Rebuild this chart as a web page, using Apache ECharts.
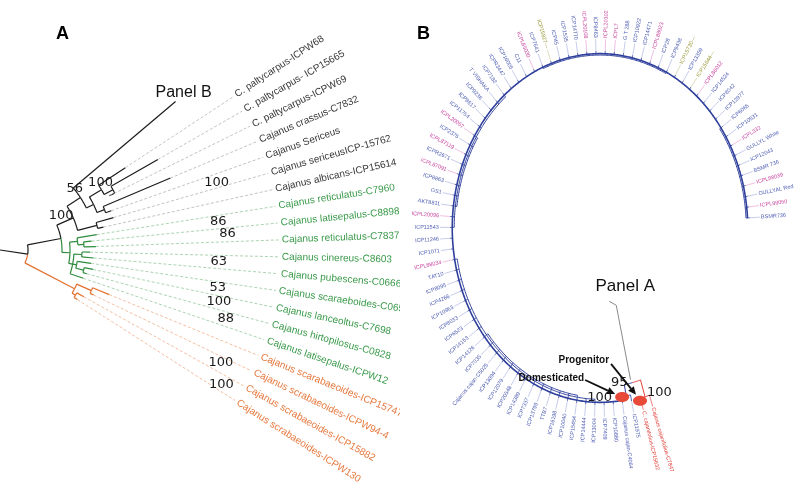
<!DOCTYPE html>
<html><head><meta charset="utf-8">
<script src="https://cdn.jsdelivr.net/npm/echarts@6/dist/echarts.min.js"></script>
<style>html,body{margin:0;padding:0;background:#fff;}#chart{width:797px;height:490px;}</style>
</head><body><div id="chart"></div>
<script>
// ================= Panel A : wild Cajanus species tree =================
const leavesA = [
  'C. paltycarpus-ICPW68','C. paltycarpus- ICP15665','C. paltycarpus-ICPW69','Cajanus crassus-C7832',
  'Cajanus Sericeus','Cajanus sericeusICP-15762','Cajanus albicans-ICP15614',
  'Cajanus reticulatus-C7960','Cajanus latisepalus-C8898','Cajanus reticulatus-C7837','Cajanus cinereus-C8603',
  'Cajanus pubescens-C0666','Cajanus scaraeboides-C0656','Cajanus lanceoltus-C7698','Cajanus hirtopilosus-C0828',
  'Cajanus latisepalus-ICPW12','Cajanus scarabaeoides-ICP15747','Cajanus scrabaeoides-ICPW94-4',
  'Cajanus scrabaeoides-ICP15882','Cajanus scrabaeoides-ICPW130'];
const groupA = ['k','k','k','k','k','k','k','g','g','g','g','g','g','g','g','g','o','o','o','o'];
const panelBLeaf = 'Panel B';
// node: {r: distance from root, c: children}; leaf: {s: leaf slot (order), r}; slot -2 = collapsed "Panel B" clade
const treeA = {r:28, c:[
  {r:62, c:[
    {r:80, c:[
      {r:96, c:[
        {s:-2, r:230},
        {r:104, c:[
          {r:118, c:[{s:0, r:150}, {r:128, c:[{s:1, r:182}, {s:2, r:122}]}]},
          {r:112, c:[{s:3, r:185}, {s:4, r:118}]}
        ]}
      ]},
      {r:100, c:[{s:5, r:118}, {s:6, r:106}]}
    ]},
    {r:70, c:[
      {r:78, c:[{s:7, r:98}, {r:84, c:[{s:8, r:92}, {s:9, r:96}]}]},
      {r:74, c:[
        {r:82, c:[{s:10, r:90}, {s:11, r:94}]},
        {r:78, c:[{s:12, r:92}, {r:86, c:[{s:13, r:95}, {s:14, r:90}]}]},
        {s:15, r:88}
      ]}
    ]}
  ]},
  {r:84, c:[
    {r:100, c:[{s:16, r:118}, {s:17, r:104}]},
    {r:88, c:[{s:18, r:96}, {s:19, r:92}]}
  ]}
]};
// bootstrap values: [text, leaf slot position, radius]
const bootA = [['56',-1.8,97],['100',-0.15,121],['100',1.2,70],['100',4.6,227],['86',7.49,220],['86',8.43,228],
  ['63',10.5,219],['53',12.45,221],['100',13.44,225],['88',14.5,236],['100',17.4,248],['100',18.6,259]];

// ================= Panel B : cultivated accessions (circular tree) =================
const leavesB = ['BSMR736','ICPL99050','GULLYAL Red','ICPL88039','BSMR 736','ICP12043','GULLYL White','ICPL332',
  'ICP10531','ICP6065','ICP12977','ICP8042','ICP14524','ICPL86012','ICP15644---','ICP13359','ICP15730---','ICP9438',
  'ICP28','ICPL88023','ICP14471','ICP10922','G T 288','ICPL7','ICPL20102','ICP8463','ICPL20108','ICP14770','ICP1535',
  'ICP45','ICP15827---','ICP7641','ICPL85030','C11','ICP16005','ICPR3447','ICP7182','T VISHAKA','ICP9236','ICP8617',
  'ICP11754','ICPL20057','ICP2376','ICPL87119','ICPR2671','ICPL87091','ICP8863','GS1','AKT8811','ICPL20096',
  'ICP11543','ICP11246','ICP1071','ICPL88034','TAT10','ICP8095','ICP4266','ICP10963','ICP8033','ICP6523','ICP14153',
  'ICP14126','ICP7035','Cajanus cajan-C5025','ICP13094','ICP12079','ICP20548','ICP14389','ICP7337','ICP13799','TTB7',
  'ICP16198','ICP10040','ICP15454','ICP14444','ICP13004','ICP7409','ICP10880','Cajanus cajan-C4064','ICP11975',
  'C. cajanifolius-ICP15632','Cajanus cajanifolius-C7847'];
const catB = ['b','m','b','m','b','b','b','m','b','b','b','b','b','m','o','b','o','b','b','m','b','b','b','m','m',
  'b','m','b','b','b','o','b','m','b','b','b','b','b','b','b','b','m','b','m','b','m','b','b','b','m',
  'b','b','b','m','b','b','b','b','b','b','b','b','b','b','b','b','b','b','b','b','b','b','b','b','b','b','b','b','b','b',
  'r','r'];
// clade arcs: [first leaf, last leaf, radius]
const arcsB = [[0,78,0.985],[0,9,0.975],[17,31,0.977],[36,50,0.972],[41,48,0.962],[53,75,0.968],[61,73,0.957]];
const bootB = ['100','95','100'];
const panelALeaf = 'Panel A';
const noteB = ['Domesticated','Progenitor'];

// ================= layout helpers =================
const rad = d => d * Math.PI / 180;
const A_SLOT0 = 33.3, A_STEP = 3.47, A_LABEL_R = 282;
const angA = s => A_SLOT0 - A_STEP * s;
const pA = (r, t) => [r * Math.cos(rad(t)), r * Math.sin(rad(t))];
const edgesA = [], tipsA = [];
(function layout(n) {
  if (n.c) {
    n.c.forEach(layout);
    const ts = n.c.map(c => c.t);
    n.t = (Math.min(...ts) + Math.max(...ts)) / 2;
    const gs = [...new Set(n.c.map(c => c.g))];
    n.g = gs.length === 1 ? gs[0] : 'k';
  } else {
    n.t = angA(n.s);
    n.g = n.s >= 0 ? groupA[n.s] : 'k';
    n.name = n.s >= 0 ? leavesA[n.s] : panelBLeaf;
    tipsA.push(n);
  }
})(treeA);
(function collect(n) {
  if (!n.c) return;
  n.c.forEach(c => {
    edgesA.push({arc:true, r:n.r, t1:n.t, t2:c.t, g:c.g});
    edgesA.push({arc:false, t:c.t, r1:n.r, r2:c.r, g:c.g});
    collect(c);
  });
})(treeA);
edgesA.push({arc:false, t:treeA.t, r1:0, r2:treeA.r, g:'k'});
const labTipsA = tipsA.filter(t => t.s >= 0);
const pbTip = tipsA.filter(t => t.s < 0);

const B_PHI0 = 3.3, B_STEP = 3.53, B_LABEL_R = 1.075;
const angB = i => B_PHI0 + B_STEP * i;
const pB = (r, f) => [r * Math.cos(rad(f)), r * Math.sin(rad(f))];
const edgesB = [];
arcsB.forEach((a, k) => edgesB.push({arc:true, r:a[2], t1:angB(a[0]), t2:angB(a[1]), g:'b', w:k === 0 ? 1.6 : 1.0}));
const nD = {r:0.965, t:(angB(78) + angB(79)) / 2};
const nP = {r:1.0, t:(angB(80) + angB(81)) / 2};
const nR = {r:0.9, t:(nD.t + nP.t) / 2};
edgesB.push({arc:true, r:nD.r, t1:angB(78), t2:angB(79), g:'b'});
edgesB.push({arc:false, t:angB(78), r1:nD.r, r2:arcsB[0][2], g:'b'});
edgesB.push({arc:true, r:nR.r, t1:nD.t, t2:nR.t, g:'b'});
edgesB.push({arc:true, r:nR.r, t1:nR.t, t2:nP.t, g:'r'});
edgesB.push({arc:false, t:nD.t, r1:nR.r, r2:nD.r, g:'b'});
edgesB.push({arc:false, t:nP.t, r1:nR.r, r2:nP.r, g:'r'});
edgesB.push({arc:true, r:nP.r, t1:angB(80), t2:angB(81), g:'r'});
const tipsB = leavesB.map((name, i) => {
  let r0;
  if (i <= 78) r0 = Math.min(...arcsB.filter(a => i >= a[0] && i <= a[1]).map(a => a[2]));
  else if (i === 79) r0 = nD.r; else r0 = nP.r;
  return {name, i, t:angB(i), r0, g:catB[i]};
});
const nodesB = [nD, nR, nP];

// colours
const colA = {k:'#1c1c1c', g:'#2e8b3c', o:'#e2702e'};
const leadA = {k:'#b4b4b4', g:'#95c99c', o:'#f0b08a'};
const txtA = {k:'#383838', g:'#3a9a4a', o:'#e67a40'};
const colB = {b:'#2f3f9c', m:'#c0449a', o:'#9a9a3c', r:'#e2403a'};
const leadB = {b:'#b9c0e6', m:'#eeb0dc', o:'#d6d6ac', r:'#e8605a'};
const txtB = {b:'#4d5cb2', m:'#c8449e', o:'#9c9a3c', r:'#e2403a'};

function arcPts(api, proj, r, t1, t2) {
  const n = Math.max(2, Math.ceil(Math.abs(t2 - t1) / 0.5) + 1), pts = [];
  for (let k = 0; k < n; k++) pts.push(api.coord(proj(r, t1 + (t2 - t1) * k / (n - 1))));
  return pts;
}
function radialAngle(api, proj, t) {
  const p0 = api.coord(proj(0, t)), p1 = api.coord(proj(1, t));
  return Math.atan2(-(p1[1] - p0[1]), p1[0] - p0[0]);
}
function edgeRender(edges, proj, colors, width) {
  return function (params, api) {
    const e = edges[params.dataIndex];
    const pts = e.arc ? arcPts(api, proj, e.r, e.t1, e.t2) : [api.coord(proj(e.r1, e.t)), api.coord(proj(e.r2, e.t))];
    return {type:'polyline', silent:true, shape:{points:pts}, style:{stroke:colors[e.g], lineWidth:e.w || width, fill:null}};
  };
}
function labelRender(tips, proj, R, font, colors) {
  return function (params, api) {
    const tip = tips[params.dataIndex];
    const p = api.coord(proj(R, tip.t));
    let rot = radialAngle(api, proj, tip.t), align = 'left';
    if (Math.cos(rot) < 0) { rot += Math.PI; align = 'right'; }
    return {type:'text', silent:true, x:p[0], y:p[1], rotation:rot,
      style:{text:tip.name, fill:colors[tip.g], font, align, verticalAlign:'middle'}};
  };
}
function arrow(x1, y1, x2, y2) {
  const a = Math.atan2(y2 - y1, x2 - x1), L = 8, W = 3.6;
  const bx = x2 - L * Math.cos(a), by = y2 - L * Math.sin(a);
  return [
    {type:'line', shape:{x1, y1, x2:bx, y2:by}, style:{stroke:'#111', lineWidth:1.8}},
    {type:'polygon', shape:{points:[[x2, y2], [bx - W * Math.sin(a), by + W * Math.cos(a)], [bx + W * Math.sin(a), by - W * Math.cos(a)]]}, style:{fill:'#111'}}
  ];
}
const numFont = '13px "DejaVu Sans"';
const noteFont = 'bold 10px "Liberation Sans"';

const series = [
  // ---- Panel A ----
  {type:'custom', xAxisIndex:0, yAxisIndex:0, clip:true, data:edgesA.map(e => e.arc ? pA(e.r, e.t1) : pA(e.r1, e.t)),
    renderItem: edgeRender(edgesA, pA, colA, 1.2)},
  {type:'custom', xAxisIndex:0, yAxisIndex:0, clip:true, data:labTipsA.map(t => pA(t.r, t.t)),
    renderItem: function (params, api) {
      const t = labTipsA[params.dataIndex];
      return {type:'polyline', silent:true, shape:{points:[api.coord(pA(t.r, t.t)), api.coord(pA(A_LABEL_R - 3, t.t))]},
        style:{stroke:leadA[t.g], lineWidth:0.8, lineDash:[3, 2], fill:null}};
    }},
  {type:'custom', xAxisIndex:0, yAxisIndex:0, clip:true, data:labTipsA.map(t => pA(A_LABEL_R, t.t)),
    renderItem: labelRender(labTipsA, pA, A_LABEL_R, '10px "Liberation Sans"', txtA)},
  {type:'custom', xAxisIndex:0, yAxisIndex:0, clip:true, data:pbTip.map(t => pA(t.r, t.t)),
    renderItem: function (params, api) {
      const t = pbTip[params.dataIndex], p = api.coord(pA(t.r, t.t));
      return {type:'text', silent:true, x:p[0] + 8, y:p[1] - 1,
        style:{text:t.name, fill:'#111', font:'16px "Liberation Sans"', align:'center', verticalAlign:'bottom'}};
    }},
  {type:'custom', xAxisIndex:0, yAxisIndex:0, clip:true, data:bootA.map(b => pA(b[2], angA(b[1]))),
    renderItem: function (params, api) {
      const b = bootA[params.dataIndex], p = api.coord(pA(b[2], angA(b[1])));
      return {type:'text', silent:true, x:p[0], y:p[1], style:{text:b[0], fill:'#1a1a1a', font:numFont, align:'center', verticalAlign:'middle'}};
    }},
  // ---- Panel B ----
  {type:'custom', xAxisIndex:1, yAxisIndex:1, data:tipsB.map(t => pB(t.r0, t.t)),
    renderItem: function (params, api) {
      const t = tipsB[params.dataIndex];
      return {type:'group', silent:true, children:[
        {type:'polyline', shape:{points:[api.coord(pB(1.0, t.t)), api.coord(pB(B_LABEL_R - 0.008, t.t))]},
          style:{stroke:leadB[t.g], lineWidth:0.8, fill:null}},
        {type:'polyline', shape:{points:[api.coord(pB(t.r0, t.t)), api.coord(pB(1.0, t.t))]},
          style:{stroke:t.g === 'r' ? colB.r : colB.b, lineWidth:0.8, fill:null}}
      ]};
    }},
  {type:'custom', xAxisIndex:1, yAxisIndex:1, data:edgesB.map(e => e.arc ? pB(e.r, e.t1) : pB(e.r1, e.t)),
    renderItem: edgeRender(edgesB, pB, colB, 1.0)},
  {type:'custom', xAxisIndex:1, yAxisIndex:1, data:tipsB.map(t => pB(B_LABEL_R, t.t)),
    renderItem: labelRender(tipsB, pB, B_LABEL_R, '5.5px "Liberation Sans"', txtB)},
  {type:'custom', xAxisIndex:1, yAxisIndex:1, data:nodesB.map(n => pB(n.r, n.t)),
    renderItem: function (params, api) {
      const i = params.dataIndex, n = nodesB[i], p = api.coord(pB(n.r, n.t));
      const x = p[0], y = p[1], ch = [];
      if (i === 0) {
        const ex = x - 4, ey = y + 1;
        ch.push({type:'ellipse', shape:{cx:ex, cy:ey, rx:7, ry:5}, style:{fill:'#e84a3a'}});
        ch.push({type:'text', x:ex - 10, y:ey + 1, style:{text:bootB[0], fill:'#1a1a1a', font:numFont, align:'right', verticalAlign:'middle'}});
        ch.push({type:'text', x:ex - 38, y:ey - 19, style:{text:noteB[0], fill:'#111', font:noteFont, align:'right', verticalAlign:'middle'}});
        ch.push(...arrow(ex - 37, ey - 17, ex - 7, ey - 3));
      } else if (i === 1) {
        ch.push({type:'text', x:x - 5, y:y, style:{text:bootB[1], fill:'#1a1a1a', font:numFont, align:'right', verticalAlign:'middle'}});
        const q = api.coord(pB(0.45, n.t));
        ch.push({type:'polyline', shape:{points:[[x - 2, y - 3], q, [q[0] - 7, q[1] - 4]]}, style:{stroke:'#8a8a8a', lineWidth:1, fill:null}});
        ch.push({type:'text', x:q[0] + 9, y:q[1] - 19, style:{text:panelALeaf, fill:'#111', font:'17px "Liberation Sans"', align:'center', verticalAlign:'middle'}});
      } else {
        const ex = x - 5, ey = y + 4;
        ch.push({type:'ellipse', shape:{cx:ex, cy:ey, rx:7, ry:5}, style:{fill:'#e84a3a'}});
        ch.push({type:'text', x:ex + 7, y:ey - 8, style:{text:bootB[2], fill:'#1a1a1a', font:numFont, align:'left', verticalAlign:'middle'}});
        ch.push({type:'text', x:ex - 31, y:ey - 41, style:{text:noteB[1], fill:'#111', font:noteFont, align:'right', verticalAlign:'middle'}});
        ch.push(...arrow(ex - 29, ey - 37, ex - 4, ey - 6));
      }
      return {type:'group', silent:true, children:ch};
    }}
];

const chart = echarts.init(document.getElementById('chart'));
chart.setOption({
  animation:false,
  backgroundColor:'#ffffff',
  title:[
    {text:'A', left:56, top:25, padding:0, textStyle:{fontSize:18, fontWeight:'bold', color:'#000', fontFamily:'Liberation Sans'}},
    {text:'B', left:417, top:25, padding:0, textStyle:{fontSize:18, fontWeight:'bold', color:'#000', fontFamily:'Liberation Sans'}}
  ],
  grid:[{left:0, top:0, width:400, height:490}, {left:400, top:0, width:397, height:490}],
  xAxis:[{gridIndex:0, type:'value', min:0, max:400, show:false},
         {gridIndex:1, type:'value', min:-200/150, max:197/150, show:false}],
  yAxis:[{gridIndex:0, type:'value', min:-240, max:250, show:false},
         {gridIndex:1, type:'value', min:-262/177, max:228/177, show:false}],
  series
});
</script></body></html>
